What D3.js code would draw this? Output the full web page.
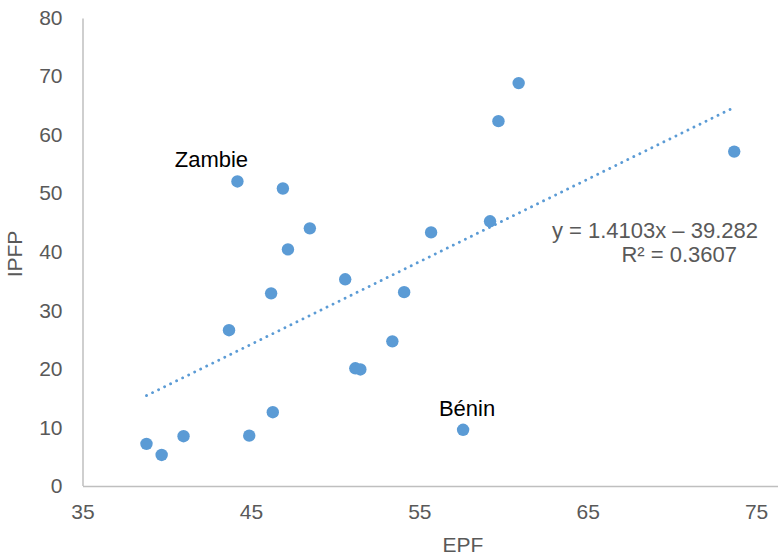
<!DOCTYPE html>
<html>
<head>
<meta charset="utf-8">
<script src="https://cdn.jsdelivr.net/npm/d3@7"></script>
<style>
  body { margin: 0; background: #fff; }
  svg text { font-family: "Liberation Sans", Arial, sans-serif; }
</style>
</head>
<body>
<div id="chart"></div>
<script>
// data
const epf  = [38.8, 39.7, 41.0, 43.7, 44.2, 44.9, 46.3, 46.2, 46.9, 47.2, 48.5, 50.6, 51.2, 51.5, 53.4, 54.1, 55.7, 57.6, 59.2, 59.7, 60.9, 73.7];
const ipfp = [7.2, 5.3, 8.5, 26.6, 52.0, 8.6, 12.6, 32.9, 50.8, 40.4, 44.0, 35.3, 20.1, 19.9, 24.7, 33.1, 43.3, 9.6, 45.2, 62.3, 68.8, 57.1];
const xTicks = [35, 45, 55, 65, 75];
const yTicks = [0, 10, 20, 30, 40, 50, 60, 70, 80];
const labels = [{ name: 'Zambie', x: 44.2, y: 52.0 }, { name: 'Bénin', x: 57.6, y: 9.6 }];
const slope = 1.4103, intercept = -39.282;
const equationLines = ['y = 1.4103x – 39.282', 'R² = 0.3607'];

const width = 778, height = 557;
const blue = '#5b9bd5', grey = '#595959';

const svg = d3.select('#chart').append('svg')
    .attr('width', width)
    .attr('height', height);

const x = d3.scaleLinear().domain([35, 76.3]).range([82.5, 778]);
const y = d3.scaleLinear().domain([0, 80]).range([486, 17.5]);

// axes (no tick marks, just labels)
const xAxis = svg.append('g')
    .attr('transform', `translate(0,${y(0)})`)
    .call(d3.axisBottom(x).tickValues(xTicks).tickSize(0).tickPadding(18));
const yAxis = svg.append('g')
    .attr('transform', `translate(${x(35)},0)`)
    .call(d3.axisLeft(y).tickValues(yTicks).tickSize(0).tickPadding(20));

[xAxis, yAxis].forEach(g => {
    g.select('.domain').attr('stroke', '#bfbfbf').attr('stroke-width', 1.5);
    g.selectAll('text').attr('fill', grey).style('font-size', '21px');
});
yAxis.select('.domain').attr('d', `M0.5,${y(80) + 1}V${y(0)}`);

// axis titles
svg.append('text')
    .attr('x', 463).attr('y', 552)
    .attr('text-anchor', 'middle')
    .attr('fill', grey).style('font-size', '21px')
    .text('EPF');
svg.append('text')
    .attr('transform', `translate(22,254) rotate(-90)`)
    .attr('text-anchor', 'middle')
    .attr('fill', grey).style('font-size', '21px')
    .text('IPFP');

// linear trend line across the data range
const xExt = d3.extent(epf);
svg.append('line')
    .attr('x1', x(xExt[0])).attr('y1', y(slope * xExt[0] + intercept))
    .attr('x2', x(xExt[1])).attr('y2', y(slope * xExt[1] + intercept))
    .attr('stroke', blue)
    .attr('stroke-width', 2.8)
    .attr('stroke-linecap', 'round')
    .attr('stroke-dasharray', '0.1 6.6');

// points
svg.append('g').selectAll('circle')
    .data(d3.zip(epf, ipfp))
    .join('circle')
    .attr('cx', d => x(d[0]))
    .attr('cy', d => y(d[1]))
    .attr('r', 6.2)
    .attr('fill', blue);

// point annotations
svg.append('g').selectAll('text')
    .data(labels)
    .join('text')
    .attr('x', d => x(d.x) + (d.name === 'Zambie' ? -26 : 4))
    .attr('y', d => y(d.y) - 14)
    .attr('text-anchor', 'middle')
    .attr('fill', '#000')
    .style('font-size', '22px')
    .text(d => d.name);

// equation
svg.append('g').selectAll('text')
    .data(equationLines)
    .join('text')
    .attr('x', (d, i) => i === 0 ? 758 : 737)
    .attr('y', (d, i) => 238 + i * 24)
    .attr('text-anchor', 'end')
    .attr('fill', grey)
    .style('font-size', '22px')
    .text(d => d);
</script>
</body>
</html>
